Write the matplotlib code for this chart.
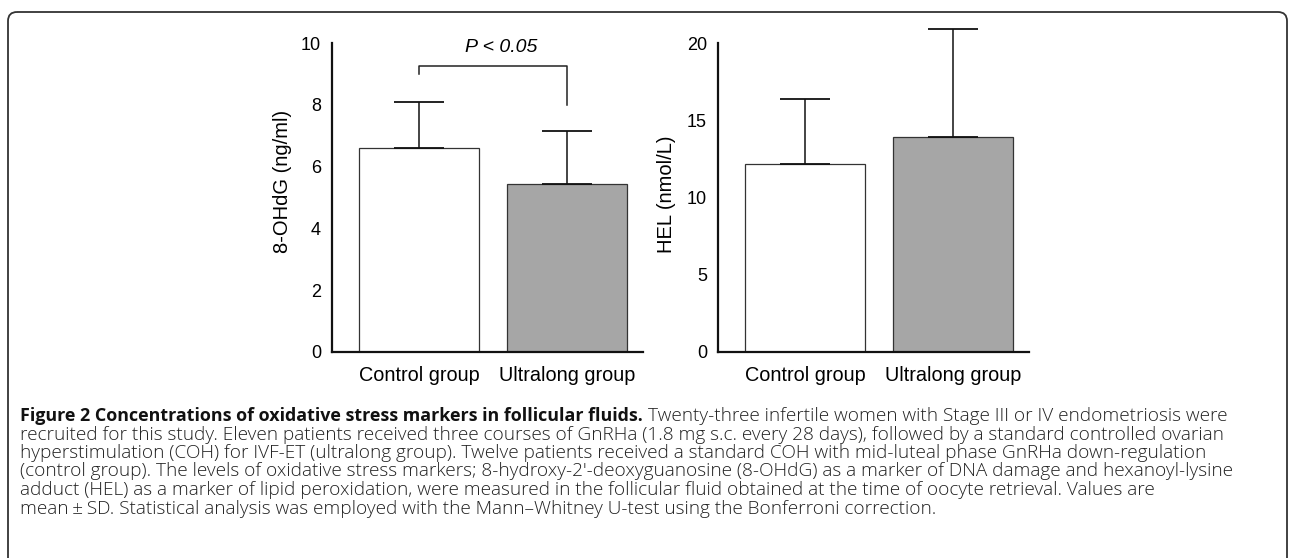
import matplotlib
matplotlib.use("Agg")
import matplotlib.pyplot as plt
from matplotlib.patches import FancyBboxPatch

# data (mean and upper SD)
groups = ["Control group", "Ultralong group"]
ohdg_mean = [6.6, 5.45]
ohdg_sd = [1.5, 1.7]
hel_mean = [12.2, 13.9]
hel_sd = [4.2, 7.0]
ohdg_ticks = [0, 2, 4, 6, 8, 10]
hel_ticks = [0, 5, 10, 15, 20]
bar_colors = ["white", "#a6a6a6"]

caption_title = "Figure 2 Concentrations of oxidative stress markers in follicular fluids."
caption_lines = [
    "Twenty-three infertile women with Stage III or IV endometriosis were",
    "recruited for this study. Eleven patients received three courses of GnRHa (1.8 mg s.c. every 28 days), followed by a standard controlled ovarian",
    "hyperstimulation (COH) for IVF-ET (ultralong group). Twelve patients received a standard COH with mid-luteal phase GnRHa down-regulation",
    "(control group). The levels of oxidative stress markers; 8-hydroxy-2\u2032-deoxyguanosine (8-OHdG) as a marker of DNA damage and hexanoyl-lysine",
    "adduct (HEL) as a marker of lipid peroxidation, were measured in the follicular fluid obtained at the time of oocyte retrieval. Values are",
    "mean\u2009\u00b1\u2009SD. Statistical analysis was employed with the Mann\u2013Whitney U-test using the Bonferroni correction.",
]

W, H = 1290, 558
CHART_FONT = ["Liberation Sans", "DejaVu Sans"]
CAP_FONT = ["Open Sans", "DejaVu Sans"]


def px_box(x0, x1, y_top, y_bot):
    return [x0 / W, 1 - y_bot / H, (x1 - x0) / W, (y_bot - y_top) / H]


def bar_panel(ax, means, sds, ticks):
    xs = list(range(len(means)))
    ax.bar(xs, means, width=0.81, color=bar_colors, edgecolor="#333333", linewidth=0.9, zorder=2)
    eb = ax.errorbar(xs, means, yerr=[[0] * len(sds), sds], fmt="none", ecolor="#111111",
                     elinewidth=1.1, capsize=18, capthick=1.3, zorder=3)
    for art in eb.lines[1] + eb.lines[2]:
        art.set_clip_on(False)
    ax.set_xlim(-0.59, 1.51)
    ax.set_ylim(0, ticks[-1])
    ax.set_yticks(ticks)
    ax.set_xticks(xs)
    ax.set_xticklabels(groups)
    for s in ("top", "right"):
        ax.spines[s].set_visible(False)
    for s in ("left", "bottom"):
        ax.spines[s].set_linewidth(1.6)
        ax.spines[s].set_color("#111111")
    ax.tick_params(axis="y", length=0, pad=8, labelsize=13)
    ax.tick_params(axis="x", length=0, pad=10, labelsize=14.3)
    for lab in ax.get_xticklabels() + ax.get_yticklabels():
        lab.set_family(CHART_FONT)


fig = plt.figure(figsize=(W / 100, H / 100), dpi=100)

cap = fig.add_axes([0, 0, 1, 1])
cap.set_xlim(0, W)
cap.set_ylim(H, 0)
cap.axis("off")
cap.add_patch(FancyBboxPatch((8, 12), 1279, 600, boxstyle="round,pad=0,rounding_size=9",
                             facecolor="none", edgecolor="#333333", linewidth=1.3))

ax1 = fig.add_axes(px_box(332, 643, 43, 352))
bar_panel(ax1, ohdg_mean, ohdg_sd, ohdg_ticks)

# significance bracket
ax1.plot([0, 0, 1, 1], [9.0, 9.25, 9.25, 8.0], color="#222222", linewidth=1.1, clip_on=False)
ax1.text(0.55, 9.87, "P < 0.05", ha="center", va="center", style="italic", fontsize=14,
         family=CHART_FONT, clip_on=False)

ax2 = fig.add_axes(px_box(718, 1029, 43, 352))
bar_panel(ax2, hel_mean, hel_sd, hel_ticks)

cap.text(283, 253, "8-OHdG (ng/ml)", rotation=90, ha="center", va="bottom", fontsize=14.5, family=CHART_FONT)
cap.text(667, 253, "HEL (nmol/L)", rotation=90, ha="center", va="bottom", fontsize=14.5, family=CHART_FONT)

# caption: fit the font size so the second line spans the same width as in the figure
t1 = cap.text(20, 416, caption_title, fontsize=10, weight="bold", family=CAP_FONT,
              va="center", ha="left", color="#111111")
t_rest = cap.annotate(caption_lines[0], xy=(1, 0.5), xycoords=t1, xytext=(4, 0), textcoords="offset points",
                      fontsize=10, family=CAP_FONT, weight="light", va="center", ha="left", color="#222222")
texts = [t_rest]
for i, line in enumerate(caption_lines[1:], start=1):
    texts.append(cap.text(20, 416 + i * 18.5, line, fontsize=10, family=CAP_FONT, weight="light",
                          va="center", ha="left", color="#222222"))

renderer = fig.canvas.get_renderer()
w2 = texts[1].get_window_extent(renderer).width
size = 10 * 1200 / w2
for t in texts:
    t.set_fontsize(size)
t1.set_fontsize(size * 0.94)

fig.savefig("out.png", dpi=100)
